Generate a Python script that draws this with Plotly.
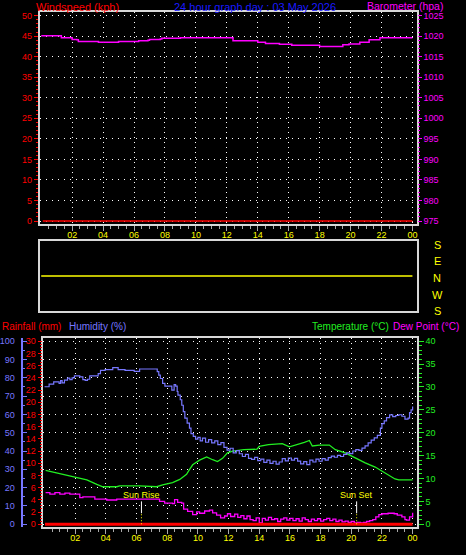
import numpy as np
import plotly.graph_objects as go

W, H = 466, 555

# ---------------- data ----------------
hour_ticks = [2, 4, 6, 8, 10, 12, 14, 16, 18, 20, 22, 24]
hour_labels = ["02", "04", "06", "08", "10", "12", "14", "16", "18", "20", "22", "00"]

wind_hours = [0.1, 24.0]
wind_kph = [0.0, 0.0]

baro_hours = [0.0, 1.2, 1.3, 1.9, 2.0, 2.3, 2.4, 3.6, 3.7, 4.8, 5.0, 6.2, 6.3, 6.9, 7.0, 7.7,
              7.8, 8.8, 9.0, 12.3, 12.4, 14.0, 14.5, 15.4, 16.2, 18.0, 19.5, 19.9, 20.6,
              21.2, 21.9, 24.0]
baro_hpa = [1020.1, 1020.1, 1019.6, 1019.6, 1019.2, 1019.1, 1018.7, 1018.7, 1018.5, 1018.5,
            1018.7, 1018.7, 1018.9, 1019.0, 1019.2, 1019.3, 1019.5, 1019.5, 1019.6, 1019.6,
            1018.9, 1018.5, 1018.2, 1018.0, 1017.8, 1017.5, 1017.9, 1018.1, 1018.5, 1019.1,
            1019.6, 1019.6]

dir_hours = [0.0, 24.0]
dir_deg = [0.0, 0.0]
compass_labels = ["S", "E", "N", "W", "S"]

hum_hours = [0.00, 0.30, 0.60, 0.95, 1.05, 1.15, 1.30, 1.50, 1.65, 1.80, 1.95, 2.30, 2.50, 2.65,
             2.80, 2.95, 3.40, 3.50, 3.65, 3.95, 4.45, 4.80, 5.25, 5.85, 6.20, 7.20, 7.35, 7.45,
             7.55, 7.70, 7.85, 8.25, 8.30, 8.45, 8.55, 8.65, 8.70, 8.85, 8.95, 9.05, 9.15, 9.30,
             9.45, 9.55, 9.70, 9.85, 10.0, 10.15, 10.3, 10.5, 10.7, 10.9, 11.1, 11.3, 11.5, 11.7,
             11.9, 12.1, 12.3, 12.5, 12.7, 12.9, 13.1, 13.3, 13.5, 13.7, 13.9, 14.1, 14.3, 14.5,
             14.7, 14.9, 15.1, 15.3, 15.5, 15.7, 15.9, 16.1, 16.3, 16.5, 16.7, 16.9, 17.1, 17.3,
             17.5, 17.7, 17.9, 18.1, 18.3, 18.5, 18.7, 18.9, 19.1, 19.3, 19.5, 19.7, 19.9, 20.1,
             20.3, 20.5, 20.7, 20.9, 21.1, 21.3, 21.5, 21.7, 21.9, 22.0, 22.15, 22.3, 22.5, 22.7,
             22.9, 23.1, 23.3, 23.5, 23.7, 23.8, 23.9, 24.0]
hum_pct = [75.1, 76.5, 77.8, 77.0, 78.5, 77.2, 78.7, 79.8, 79.0, 80.0, 81.0, 80.5, 79.0, 78.6,
           79.2, 81.0, 81.0, 82.3, 84.0, 84.5, 85.5, 84.5, 84.1, 83.5, 84.8, 84.8, 83.4, 81.5,
           79.6, 76.9, 75.4, 75.4, 73.3, 76.3, 75.5, 72.5, 70.5, 68.0, 65.0, 61.5, 58.0, 55.2,
           52.5, 49.5, 48.0, 46.5, 47.5, 45.5, 47.0, 44.8, 46.2, 44.5, 45.5, 43.5, 44.6, 42.0,
           40.5, 41.5, 39.0, 40.2, 38.5, 37.0, 38.2, 36.0, 35.4, 36.5, 34.8, 35.6, 33.8, 35.0,
           33.2, 34.4, 32.8, 34.0, 35.8, 34.6, 36.2, 35.0, 36.0, 34.5, 33.0, 34.2, 32.6, 35.0,
           34.0, 35.6, 34.4, 35.8, 35.0, 36.4, 37.2, 36.6, 37.6, 37.0, 38.2, 39.0, 38.6, 40.0,
           40.8, 40.4, 41.6, 42.8, 44.4, 46.0, 47.2, 48.6, 52.5, 55.0, 56.5, 58.2, 59.7, 58.8,
           59.4, 59.8, 59.0, 57.4, 58.0, 61.0, 62.5, 64.3]

temp_hours = [0.07, 1.0, 1.85, 2.3, 2.76, 3.41, 3.8, 4.71, 4.9, 6.2, 6.86, 7.31, 7.7, 8.35, 8.82,
              9.26, 9.46, 9.66, 10.11, 10.57, 10.96, 11.28, 11.61, 11.93, 12.26, 13.0, 13.85,
              14.0, 14.6, 15.5, 15.97, 16.62, 16.94, 17.27, 17.46, 17.92, 18.57, 18.96, 19.61,
              20.26, 20.91, 21.56, 22.2, 22.85, 23.1, 24.0]
temp_c = [11.8, 11.1, 10.5, 10.2, 9.7, 8.7, 8.2, 8.2, 8.4, 8.4, 8.3, 8.2, 8.6, 9.1, 9.8,
          10.9, 12.0, 13.0, 14.0, 14.7, 14.1, 13.7, 14.4, 15.6, 16.0, 16.3, 16.4,
          17.0, 17.4, 17.6, 16.9, 17.5, 17.9, 18.3, 17.1, 17.3, 17.3, 16.3, 15.6,
          14.5, 13.4, 12.5, 11.3, 9.9, 9.7, 9.7]

dew_hours = [0.07, 0.35, 0.68, 1.0, 1.33, 1.65, 1.98, 2.3, 2.5, 3.15, 3.28, 4.06, 4.71, 7.31,
             7.5, 7.83, 8.35, 8.48, 8.68, 8.94, 9.07, 9.33, 9.66, 9.92, 10.11, 10.44, 10.76,
             10.96, 11.22, 11.48, 11.74, 11.93, 12.13, 12.4, 12.6, 12.8, 13.0, 13.2, 13.4, 13.6,
             13.8, 14.0, 14.2, 14.4, 14.6, 14.8, 15.0, 15.2, 15.4, 15.6, 15.8, 16.0, 16.2, 16.4,
             16.6, 16.8, 17.0, 17.2, 17.4, 17.6, 17.8, 18.0, 18.2, 18.4, 18.6, 18.8, 19.0, 19.2,
             19.4, 19.6, 19.8, 20.0, 20.2, 20.4, 20.6, 20.8, 21.0, 21.2, 21.4, 21.6, 21.8, 22.0,
             22.4, 22.8, 23.0, 23.3, 23.5, 23.6, 23.8, 24.0]
dew_c = [6.9, 6.6, 6.9, 6.6, 6.8, 6.6, 6.6, 5.8, 6.0, 6.0, 5.5, 5.3, 5.5, 5.5,
         5.0, 4.6, 4.5, 5.4, 4.8, 4.6, 3.3, 2.8, 2.1, 2.7, 2.4, 2.9, 3.1,
         2.5, 2.0, 1.4, 1.8, 2.3, 1.7, 2.2, 1.5, 1.9, 1.2, 1.8, 1.0, 0.8,
         1.4, 0.3, 1.3, 0.9, 1.5, 1.0, 1.2, 0.6, 1.1, 1.4, 0.9, 1.3, 0.8, 1.2,
         0.7, 1.4, 1.0, 0.6, 1.1, 0.8, 1.2, 0.7, 1.0, 1.3, 0.8, 1.1, 0.6, 0.9,
         0.5, 0.7, 0.4, 0.6, 0.3, 0.4, 0.3, 0.4, 0.6, 0.8, 1.0, 1.6, 2.1, 2.3,
         2.4, 2.3, 2.0, 1.6, 1.0, 0.9, 1.6, 2.5]

rain_hours = [0.03, 24.0]
rain_mm = [0.0, 0.0]

sunrise_hour = 6.32
sunset_hour = 20.35
graph_date = "03 May 2026"

# ---------------- styling / layout helpers ----------------
RED = "#ff0000"
BLUE = "#1a1aff"
MAG = "#ff00ff"
HUM = "#7777ff"
GRN = "#22ee22"
YEL = "#ffff00"
FRAME = "#d8d8d8"
FONT = "Liberation Sans"


def pxx(p):
    return p / W


def pxy(p):
    return 1 - p / H


top_x = [pxx(40), pxx(417.5)]
top_y = [pxy(224), pxy(10)]
mid_y = [pxy(312), pxy(241)]
bot_x = [pxx(42.7), pxx(417.5)]
bot_y = [pxy(529.5), pxy(339.3)]

fig = go.Figure()

# top panel
fig.add_trace(go.Scatter(x=wind_hours, y=wind_kph, mode="lines", line=dict(color=RED, width=1.5),
                         xaxis="x", yaxis="y", hoverinfo="skip"))
fig.add_trace(go.Scatter(x=baro_hours, y=baro_hpa, mode="lines", line=dict(color=MAG, width=1.5, shape="hv"),
                         xaxis="x", yaxis="y2", hoverinfo="skip"))
# middle panel
fig.add_trace(go.Scatter(x=dir_hours, y=dir_deg, mode="lines", line=dict(color=YEL, width=1.5),
                         xaxis="x3", yaxis="y3", hoverinfo="skip"))
# bottom panel
fig.add_trace(go.Scatter(x=rain_hours, y=rain_mm, mode="lines", line=dict(color=RED, width=3),
                         xaxis="x4", yaxis="y5", hoverinfo="skip"))
fig.add_trace(go.Scatter(x=hum_hours, y=hum_pct, mode="lines", line=dict(color=HUM, width=1.2, shape="hv"),
                         xaxis="x4", yaxis="y6", hoverinfo="skip"))
fig.add_trace(go.Scatter(x=temp_hours, y=temp_c, mode="lines", line=dict(color=GRN, width=1.3),
                         xaxis="x4", yaxis="y4", hoverinfo="skip"))
fig.add_trace(go.Scatter(x=dew_hours, y=dew_c, mode="lines", line=dict(color=MAG, width=1.3, shape="hv"),
                         xaxis="x4", yaxis="y4", hoverinfo="skip"))

xgrid = dict(showgrid=True, gridcolor="#ffffff", gridwidth=1, griddash="1px,4px")
ygrid = dict(showgrid=True, gridcolor="#ffffff", gridwidth=1, griddash="1px,5px")
frame = dict(showline=True, linecolor=FRAME, linewidth=2, mirror=True, zeroline=False)
half_hours = list(np.arange(0.5, 24.01, 0.5))

xcommon = dict(tickmode="array", tickvals=hour_ticks, ticktext=hour_labels,
               tickfont=dict(color=YEL, size=9, family=FONT), ticks="outside", ticklen=5,
               tickcolor="#aaaaaa", tickwidth=1, ticklabelstandoff=-4,
               minor=dict(tickmode="array", tickvals=half_hours, ticks="outside", ticklen=3,
                          tickcolor="#aaaaaa", showgrid=False),
               **xgrid, **frame)

layout = dict(
    width=W, height=H, margin=dict(l=0, r=0, t=0, b=0),
    paper_bgcolor="black", plot_bgcolor="black", showlegend=False,
    font=dict(family=FONT, color="white"),
    xaxis=dict(domain=top_x, anchor="y", range=[-0.084, 24.27], **xcommon),
    yaxis=dict(domain=top_y, anchor="x", range=[-0.72, 50.9], tickmode="linear", tick0=0, dtick=5,
               tickfont=dict(color=RED, size=9, family=FONT), ticks="outside", ticklen=4,
               tickcolor=RED, minor=dict(dtick=1, ticks="outside", ticklen=2, tickcolor=RED),
               **ygrid, **frame),
    yaxis2=dict(overlaying="y", side="right", anchor="x", range=[974.28, 1025.9], tickmode="linear",
                tick0=975, dtick=5, tickfont=dict(color=MAG, size=9, family=FONT), ticks="outside",
                ticklen=4, tickcolor=MAG, minor=dict(dtick=1, ticks="outside", ticklen=2, tickcolor=MAG),
                showgrid=False, zeroline=False, showline=False),
    xaxis3=dict(domain=top_x, anchor="y3", range=[-0.084, 24.27], showticklabels=False, ticks="",
                showgrid=False, **frame),
    yaxis3=dict(domain=mid_y, anchor="x3", range=[-180, 180], showticklabels=False, ticks="",
                showgrid=False, **frame),
    xaxis4=dict(domain=bot_x, anchor="y4", range=[-0.124, 24.26], **xcommon),
    yaxis4=dict(domain=bot_y, anchor="x4", side="right", range=[-0.54, 40.65], tickmode="linear",
                tick0=0, dtick=5, tickfont=dict(color=GRN, size=9, family=FONT), ticks="outside",
                ticklen=5, tickcolor=GRN, minor=dict(dtick=1, ticks="outside", ticklen=3, tickcolor=GRN),
                showgrid=False, **frame),
    yaxis5=dict(overlaying="y4", anchor="x4", side="left", range=[-0.41, 30.49], tickmode="linear",
                tick0=0, dtick=2, tickfont=dict(color=RED, size=9, family=FONT), ticks="outside",
                ticklen=4, tickcolor=RED, minor=dict(dtick=0.5, ticks="outside", ticklen=2, tickcolor=RED),
                showgrid=False, zeroline=False, showline=False),
    yaxis6=dict(overlaying="y4", anchor="free", position=pxx(21.7), side="left", range=[-1.35, 101.6],
                tickmode="linear", tick0=0, dtick=10, tickfont=dict(color=HUM, size=9, family=FONT),
                ticks="inside", ticklen=4, tickcolor=HUM, ticklabelstandoff=4,
                minor=dict(dtick=5, ticks="inside", ticklen=2, tickcolor=HUM),
                showline=True, linecolor=HUM, linewidth=2, zeroline=False, **ygrid),
)
fig.update_layout(**layout)

# sunrise / sunset markers
for hr, label in [(sunrise_hour, "Sun Rise"), (sunset_hour, "Sun Set")]:
    fig.add_shape(type="line", xref="x4", yref="y4", x0=hr, x1=hr, y0=2.4, y1=5.0,
                  line=dict(color="white", width=1))
    fig.add_shape(type="line", xref="x4", yref="y4", x0=hr, x1=hr, y0=0.0, y1=2.4,
                  line=dict(color=YEL, width=1, dash="1px,2px"))
    fig.add_annotation(x=hr, y=6.35, xref="x4", yref="y4", text=label, showarrow=False,
                       font=dict(color=YEL, size=9, family=FONT), xanchor="center", yanchor="middle")

# titles
def title(text, px, py, color, anchor="left", size=11):
    fig.add_annotation(x=pxx(px), y=pxy(py), xref="paper", yref="paper", text=text, showarrow=False,
                       font=dict(color=color, size=size, family=FONT), xanchor=anchor, yanchor="middle")

title("Windspeed (kph)", 34, 5, RED)
title("24 hour graph day : " + graph_date, 172, 5, BLUE)
title("Barometer (hpa)", 446, 4, MAG, anchor="right", size=10.5)
title("Rainfall (mm)", 0, 327, RED, size=10)
title("Humidity (%)", 67, 327, HUM, size=10)
title("Temperature (°C)", 392, 327, GRN, anchor="right", size=10)
title("Dew Point (°C)", 392, 327, MAG, anchor="left", size=10)

# compass labels for direction panel
for lab, py in zip(compass_labels, np.linspace(245, 312, len(compass_labels))):
    title(lab, 438, py, YEL, anchor="center", size=11)

fig.write_html("out.html", config={"displayModeBar": False},
               post_script="document.body.style.margin='0';document.body.style.overflow='hidden';")
